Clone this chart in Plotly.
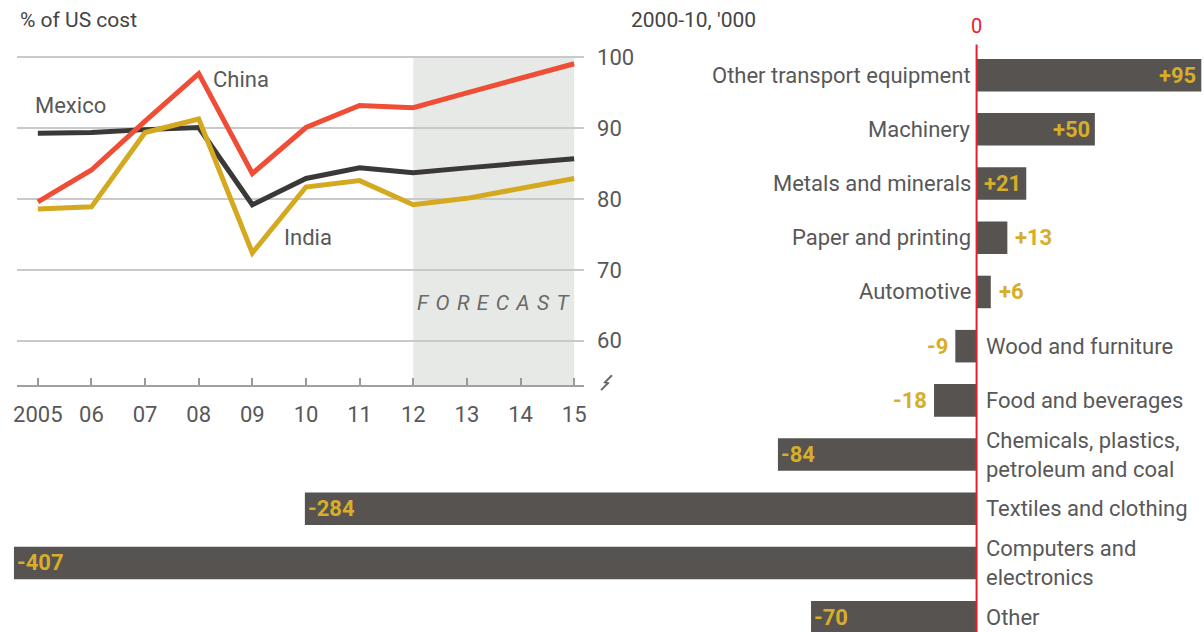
import plotly.graph_objects as go

# ---------------- data ----------------
years = [2005, 2006, 2007, 2008, 2009, 2010, 2011, 2012, 2013, 2014, 2015]
year_labels = ["2005", "06", "07", "08", "09", "10", "11", "12", "13", "14", "15"]
china = [79.6, 84.1, 91.0, 97.7, 83.6, 90.1, 93.2, 92.9, 95.0, 97.0, 99.1]
mexico = [89.3, 89.4, 89.8, 90.1, 79.2, 82.9, 84.4, 83.7, 84.4, 85.0, 85.7]
india = [78.6, 78.9, 89.4, 91.3, 72.4, 81.7, 82.6, 79.2, 80.1, 81.5, 82.9]
y_ticks = [60, 70, 80, 90, 100]
forecast_start, forecast_end = 2012, 2015

sectors = ["Other transport equipment", "Machinery", "Metals and minerals",
           "Paper and printing", "Automotive", "Wood and furniture",
           "Food and beverages", "Chemicals, plastics,<br>petroleum and coal",
           "Textiles and clothing", "Computers and<br>electronics", "Other"]
jobs_change = [95, 50, 21, 13, 6, -9, -18, -84, -284, -407, -70]

# ---------------- style ----------------
FONT = "Roboto, sans-serif"
GREY_TXT = "#585858"
GOLD = "#d6ae2a"
BAR = "#575351"
W, H = 1204, 632
FS = 22

fig = go.Figure()

# ---------- line chart ----------
fig.add_trace(go.Scatter(x=years, y=mexico, mode="lines", line=dict(color="#3a3938", width=5),
                         xaxis="x", yaxis="y", showlegend=False))
fig.add_trace(go.Scatter(x=years, y=india, mode="lines", line=dict(color="#d4a91f", width=5),
                         xaxis="x", yaxis="y", showlegend=False))
fig.add_trace(go.Scatter(x=years, y=china, mode="lines", line=dict(color="#f04d36", width=5),
                         xaxis="x", yaxis="y", showlegend=False))

x_left_px, x_right_px = 13, 583
px_per_year = (573 - 34) / 10
x_range = [2005 - (34 - x_left_px) / px_per_year, 2015 + (x_right_px - 573) / px_per_year]
px_per_unit = (337 - 50) / 40
y_top_px, y_bot_px = 46, 382
y_range = [100 - (y_bot_px - 50) / px_per_unit, 100 + (50 - y_top_px) / px_per_unit]

fig.add_shape(type="rect", xref="x", yref="y", x0=forecast_start, x1=forecast_end,
              y0=y_range[0], y1=100, fillcolor="#e6e9e5", line=dict(width=0), layer="below")

fig.update_layout(
    xaxis=dict(domain=[x_left_px / W, x_right_px / W], range=x_range,
               tickvals=years, ticktext=year_labels, ticks="inside", ticklen=7,
               tickwidth=2, tickcolor="#9a9a9a", showline=True, linecolor="#a0a0a0", linewidth=2,
               showgrid=False, zeroline=False, ticklabelstandoff=8,
               tickfont=dict(family=FONT, size=FS, color=GREY_TXT), anchor="y"),
    yaxis=dict(domain=[1 - y_bot_px / H, 1 - y_top_px / H], range=y_range,
               tickvals=y_ticks, side="right", showgrid=True, gridcolor="#c9c9c9", gridwidth=2,
               zeroline=False, showline=False, ticks="", ticklabelstandoff=12,
               tickfont=dict(family=FONT, size=FS, color=GREY_TXT), anchor="x"),
)

for txt, xx, yy in [("Mexico", 2004.91, 93.2), ("China", 2008.23, 96.9), ("India", 2009.55, 74.6)]:
    fig.add_annotation(x=xx, y=yy, xref="x", yref="y", text=txt, showarrow=False,
                       xanchor="left", yanchor="middle",
                       font=dict(family=FONT, size=FS, color=GREY_TXT))

sp = " \u200a"
fig.add_annotation(x=(forecast_start + forecast_end) / 2, y=65.3, xref="x", yref="y",
                   text="<i>" + sp.join("FORECAST") + "</i>", showarrow=False,
                   font=dict(family=FONT, size=21, color="#6a6a6a"))

# axis break mark
pts = [(600, 387), (607, 380), (604, 379), (611, 372)]
path = "M " + " L ".join(f"{x / W} {1 - y / H}" for x, y in pts)
fig.add_shape(type="path", xref="paper", yref="paper", path=path,
              line=dict(color="#6a6a6a", width=2))

# titles
fig.add_annotation(x=14 / W, y=1 - 12 / H, xref="paper", yref="paper", text="% of US cost",
                   showarrow=False, xanchor="left", yanchor="middle",
                   font=dict(family=FONT, size=21, color="#444"))
fig.add_annotation(x=628 / W, y=1 - 12 / H, xref="paper", yref="paper", text="2000-10, '000",
                   showarrow=False, xanchor="left", yanchor="middle",
                   font=dict(family=FONT, size=21, color="#444"))

# ---------- bar chart ----------
left_px = 10
x2_max = 95.3
x2_min = -407 - (left_px / (W - left_px)) * (x2_max + 407)
x2_range = [x2_min, x2_max]
first_c, step = 68, 54.9
y2_range = [(H - first_c) / step, (0 - first_c) / step]

fig.add_trace(go.Bar(x=jobs_change, y=sectors, orientation="h", marker=dict(color=BAR, line=dict(width=0)),
                     width=0.6, xaxis="x2", yaxis="y2", showlegend=False, hoverinfo="x+y"))

fig.update_layout(
    xaxis2=dict(domain=[0, 1], range=x2_range, visible=False, anchor="y2"),
    yaxis2=dict(domain=[0, 1], range=y2_range, visible=False, anchor="x2",
                type="category", categoryorder="array", categoryarray=sectors),
)

# zero line
fig.add_shape(type="line", xref="x2", yref="paper", x0=0, x1=0, y0=0, y1=1 - 37 / H,
              line=dict(color="#e8202a", width=2))
fig.add_annotation(x=0, y=1 - 18 / H, xref="x2", yref="paper", text="0", showarrow=False,
                   yanchor="middle", font=dict(family=FONT, size=20, color="#e8202a"))

for s, v in zip(sectors, jobs_change):
    lab = f"+{v}" if v > 0 else f"{v}"
    if v > 0:
        fig.add_annotation(x=0, y=s, xref="x2", yref="y2", text=s, showarrow=False,
                           xanchor="right", xshift=-4, align="right",
                           font=dict(family=FONT, size=FS, color=GREY_TXT))
    else:
        fig.add_annotation(x=0, y=s, xref="x2", yref="y2", text=s, showarrow=False,
                           xanchor="left", xshift=7, align="left",
                           font=dict(family=FONT, size=FS, color=GREY_TXT))
    big = abs(v) >= 20
    if v > 0:
        anchor, shift = ("right", -3) if big else ("left", 6)
    else:
        anchor, shift = ("left", 1) if big else ("right", -5)
    fig.add_annotation(x=v, y=s, xref="x2", yref="y2", text=f"<b>{lab}</b>", showarrow=False,
                       xanchor=anchor, xshift=shift, font=dict(family=FONT, size=FS, color=GOLD))

fig.update_layout(width=W, height=H, margin=dict(l=0, r=0, t=0, b=0),
                  paper_bgcolor="white", plot_bgcolor="rgba(0,0,0,0)", bargap=0.4)

fig.write_html("out.html", config={"displayModeBar": False},
               post_script="document.body.style.margin='0';document.body.style.padding='0';"
                           "document.body.style.overflow='hidden';")
